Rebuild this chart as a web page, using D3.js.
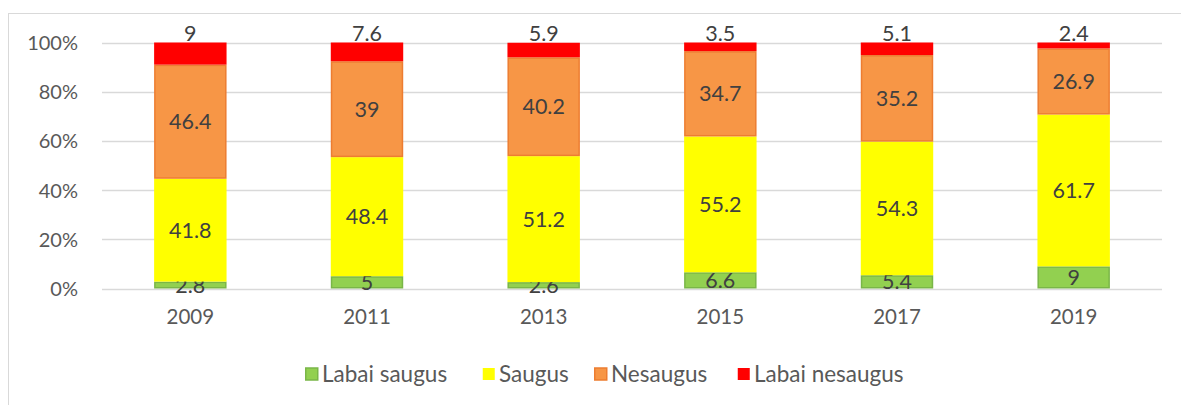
<!DOCTYPE html>
<html>
<head>
<meta charset="utf-8">
<script src="https://cdn.jsdelivr.net/npm/d3@7"></script>
<style>
  body { margin: 0; background: #fff; }
  text { font-family: Lato, "Open Sans", sans-serif; }
</style>
</head>
<body>
<script>
(function(){

  //chart data
  var years = ["2009", "2011", "2013", "2015", "2017", "2019"];
  var seriesNames = ["Labai saugus", "Saugus", "Nesaugus", "Labai nesaugus"];
  var labaiSaugus = [2.8, 5, 2.6, 6.6, 5.4, 9];
  var saugus = [41.8, 48.4, 51.2, 55.2, 54.3, 61.7];
  var nesaugus = [46.4, 39, 40.2, 34.7, 35.2, 26.9];
  var labaiNesaugus = [9, 7.6, 5.9, 3.5, 5.1, 2.4];
  var yTicks = [0, 20, 40, 60, 80, 100];

  var fills = ["#92D050", "#FFFF00", "#F79646", "#FF0000"];
  var strokes = ["#7AB648", "none", "#ED7D31", "none"];

  window.onload = setChart();

  function setChart(){
    var width = 1181,
        height = 405;

    var svg = d3.select("body")
      .append("svg")
      .attr("width", width)
      .attr("height", height);

    //outer chart frame
    svg.append("rect")
      .attr("x", 8.5)
      .attr("y", 13.5)
      .attr("width", 1200)
      .attr("height", 420)
      .attr("fill", "none")
      .attr("stroke", "#d9d9d9");

    var x = d3.scaleBand()
      .domain(years)
      .range([102, 1162])
      .paddingInner(0.59)
      .paddingOuter(0.295);

    var y = d3.scaleLinear()
      .domain([0, 100])
      .range([288.5, 42.5]);

    //gridlines
    svg.selectAll(".grid")
      .data(yTicks)
      .enter()
      .append("line")
      .attr("x1", 102)
      .attr("x2", 1162)
      .attr("y1", function(d){ return Math.round(y(d)) + 0.5; })
      .attr("y2", function(d){ return Math.round(y(d)) + 0.5; })
      .attr("stroke", "#d9d9d9")
      .attr("stroke-width", 1.3);

    //y axis labels
    var yAxis = d3.axisLeft(y)
      .tickValues(yTicks)
      .tickFormat(function(d){ return d + "%"; })
      .tickSize(0)
      .tickPadding(24);

    var yG = svg.append("g")
      .attr("transform", "translate(102,0)")
      .call(yAxis);
    yG.select(".domain").remove();
    yG.selectAll("text")
      .attr("fill", "#595959")
      .style("font-size", "20px")
      .attr("dy", "0.35em");

    //x axis labels
    var xAxis = d3.axisBottom(x)
      .tickSize(0)
      .tickPadding(21);

    var xG = svg.append("g")
      .attr("transform", "translate(0,288.5)")
      .call(xAxis);
    xG.select(".domain").remove();
    xG.selectAll("text")
      .attr("fill", "#595959")
      .style("font-size", "20.5px");

    //stack the series
    var table = years.map(function(yr, i){
      return {
        year: yr,
        "Labai saugus": labaiSaugus[i],
        "Saugus": saugus[i],
        "Nesaugus": nesaugus[i],
        "Labai nesaugus": labaiNesaugus[i]
      };
    });
    var stacked = d3.stack().keys(seriesNames)(table);

    var layers = svg.selectAll(".layer")
      .data(stacked)
      .enter()
      .append("g")
      .attr("class", "layer");

    layers.selectAll("rect")
      .data(function(d){ return d.map(function(p){ return {p: p, k: d.index}; }); })
      .enter()
      .append("rect")
      .attr("x", function(d){ return x(d.p.data.year) + (strokes[d.k] == "none" ? 0 : 0.75); })
      .attr("width", function(d){ return x.bandwidth() - (strokes[d.k] == "none" ? 0 : 1.5); })
      .attr("y", function(d){ return y(d.p[1]) + (strokes[d.k] == "none" ? 0 : 0.75); })
      .attr("height", function(d){ return y(d.p[0]) - y(d.p[1]) - (strokes[d.k] == "none" ? 0 : 1.5); })
      .attr("fill", function(d){ return fills[d.k]; })
      .attr("stroke", function(d){ return strokes[d.k]; })
      .attr("stroke-width", 1.5);

    //data labels
    layers.selectAll("text")
      .data(function(d){ return d.map(function(p){ return {p: p, k: d.index}; }); })
      .enter()
      .append("text")
      .attr("x", function(d){ return x(d.p.data.year) + x.bandwidth() / 2; })
      .attr("y", function(d){
        if (d.k == 3) return y(100) - 9; //top labels sit above the bar
        return (y(d.p[0]) + y(d.p[1])) / 2;
      })
      .attr("dy", "0.35em")
      .attr("text-anchor", "middle")
      .attr("fill", "#404040")
      .style("font-size", "21.5px")
      .text(function(d){ return +(d.p[1] - d.p[0]).toFixed(1); });

    //legend
    var legend = svg.append("g")
      .attr("transform", "translate(0,374)");
    var lx = [305, 482, 594, 737];
    var items = legend.selectAll(".item")
      .data(seriesNames)
      .enter()
      .append("g")
      .attr("transform", function(d, i){ return "translate(" + lx[i] + ",0)"; });
    items.append("rect")
      .attr("x", 0.75)
      .attr("y", -6)
      .attr("width", 12)
      .attr("height", 12)
      .attr("fill", function(d, i){ return fills[i]; })
      .attr("stroke", function(d, i){ return strokes[i]; })
      .attr("stroke-width", 1.5);
    items.append("text")
      .attr("x", 17)
      .attr("dy", "0.35em")
      .attr("fill", "#595959")
      .style("font-size", "22.5px")
      .text(function(d){ return d; });
  };
})();
</script>
</body>
</html>
